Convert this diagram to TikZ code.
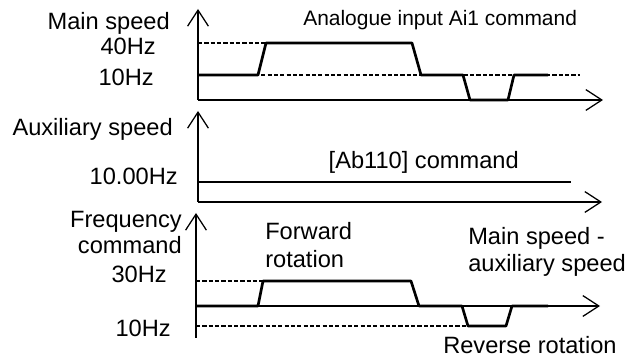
\documentclass[tikz,border=0pt]{standalone}
\usepackage{fontspec}
\setmainfont{Liberation Sans}
\usetikzlibrary{arrows.meta}
\begin{document}
\begin{tikzpicture}[x=0.025cm, y=-0.025cm, line join=round,
		font=\fontsize{16.8}{20}\selectfont,
		axis/.style={line width=0.9pt, -{Straight Barb[length=0.4cm, width=0.52cm, line width=0.9pt]}},
		sig/.style={line width=1.9pt},
		ref/.style={dashed, dash pattern=on 3pt off 1.5pt, line width=0.85pt},
		lbl/.style={inner sep=0pt}]
		\useasboundingbox (0,0) rectangle (640,360);
		% main speed
		\coordinate (o1) at (198,100);
		\coordinate (y1) at (198,9);
		\coordinate (x1) at (603,100);
		\draw[axis] (o1) -- (y1);
		\draw[axis] (o1) -- (x1);
		\draw[ref] (198,43) -- (266,43);
		\draw[ref] (198,75) -- (580,75);
		\draw[sig] (198,75) -- (258,75) -- (266,43) -- (412,43) -- (421,75) -- (463,75)
			-- (470,100) -- (508,100) -- (514,75) -- (548,75);
		\node[lbl, anchor=base east] (main) at (170,30) {Main speed};
		\node[lbl, anchor=base east] (m40) at (156,55) {40Hz};
		\node[lbl, anchor=base east] (m10) at (154,86) {10Hz};
		\node[lbl, anchor=base west, font=\fontsize{14.9}{18}\selectfont] (ai1) at (303,26) {Analogue input Ai1 command};
		% auxiliary speed
		\coordinate (o2) at (198,202);
		\coordinate (y2) at (198,111);
		\coordinate (x2) at (602,202);
		\draw[axis] (o2) -- (y2);
		\draw[axis] (o2) -- (x2);
		\draw[sig] (198,182) -- (571,182);
		\node[lbl, anchor=base east] (aux) at (173,136) {Auxiliary speed};
		\node[lbl, anchor=base east] (a10) at (178,185) {10.00Hz};
		\node[lbl, anchor=base east] (ab) at (519,169) {[Ab110] command};
		% frequency command
		\coordinate (b3) at (196,338);
		\coordinate (o3) at (196,306);
		\coordinate (y3) at (196,213);
		\coordinate (x3) at (600,306);
		\draw[line width=0.9pt] (b3) -- (o3);
		\draw[axis] (o3) -- (y3);
		\draw[axis, line width=1.1pt] (o3) -- (x3);
		\draw[ref] (196,281) -- (263,281);
		\draw[ref] (196,326) -- (482,326);
		\draw[sig] (196,306) -- (258,306) -- (263,281) -- (411,281) -- (419,306) -- (462,306)
			-- (468,326) -- (506,326) -- (512,306) -- (548,306);
		\node[lbl, anchor=base east] (freq) at (182,228) {Frequency};
		\node[lbl, anchor=base east] (cmd) at (182,254) {command};
		\node[lbl, anchor=base east] (f30) at (167,283) {30Hz};
		\node[lbl, anchor=base east] (f10) at (171,337) {10Hz};
		\node[lbl, anchor=base west] (fwd) at (265,240) {Forward};
		\node[lbl, anchor=base west] (fwd2) at (265,268) {rotation};
		\node[lbl, anchor=base west] (diff) at (468,245) {Main speed -};
		\node[lbl, anchor=base west] (diff2) at (468,272) {auxiliary speed};
		\node[lbl, anchor=base west] (rev) at (443,354) {Reverse rotation};
	\end{tikzpicture}
\end{document}
